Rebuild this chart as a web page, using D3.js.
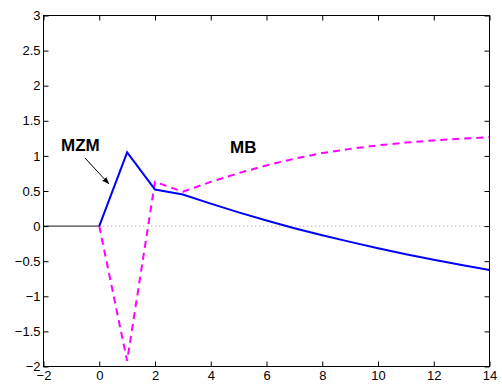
<!DOCTYPE html>
<html>
<head>
  <meta charset="utf-8">
  <style type="text/css">
    body { margin: 0; background: #fff; }
    svg { display: block; background: #fff; }
    .axis text {
      font-family: "Liberation Sans", Arial, sans-serif;
      font-size: 13px;
      fill: #000;
    }
    .axis path { display: none; }
    .axis line { stroke: #000; stroke-width: 1px; }
    .label {
      font-family: "Liberation Sans", Arial, sans-serif;
      font-size: 17px;
      font-weight: bold;
      fill: #000;
    }
  </style>
</head>
<body>
  <script src="https://d3js.org/d3.v7.min.js"></script>
  <script>
    // periods after the shock
    var periods = [0, 1, 2, 3, 4, 5, 6, 7, 8, 9, 10, 11, 12, 13, 14];
    // MZM response (blue, solid)
    var mzm = [0, 1.05, 0.52, 0.45, 0.32, 0.195, 0.08, -0.03, -0.13, -0.225, -0.315, -0.40, -0.48, -0.555, -0.625];
    // MB response (magenta, dashed)
    var mb = [0, -1.92, 0.63, 0.49, 0.63, 0.755, 0.865, 0.96, 1.04, 1.10, 1.15, 1.19, 1.22, 1.245, 1.265];
    // pre-shock segment
    var preX = [-2, 0];
    var preY = [0, 0];

    var xTicks = [-2, 0, 2, 4, 6, 8, 10, 12, 14];
    var yTicks = [-2, -1.5, -1, -0.5, 0, 0.5, 1, 1.5, 2, 2.5, 3];

    var W = 502, H = 390;
    var m = {left: 43.5, right: 489.5, top: 15.5, bottom: 366.5};

    var x = d3.scaleLinear().domain([-2, 14]).range([m.left, m.right]);
    var y = d3.scaleLinear().domain([-2, 3]).range([m.bottom, m.top]);
    var fmt = d3.format("");

    var svg = d3.select("body").append("svg")
      .attr("width", W)
      .attr("height", H);

    // zero reference line (dotted)
    svg.append("line")
      .attr("x1", x(0)).attr("x2", x(14))
      .attr("y1", y(0)).attr("y2", y(0))
      .attr("stroke", "#999")
      .attr("stroke-width", 1)
      .attr("stroke-dasharray", "1,3");

    var line = d3.line()
      .x(function(d) { return x(d[0]); })
      .y(function(d) { return y(d[1]); });

    svg.append("path")
      .datum(d3.zip(preX, preY))
      .attr("d", line)
      .attr("fill", "none")
      .attr("stroke", "#444")
      .attr("stroke-width", 1.2);

    svg.append("path")
      .datum(d3.zip(periods, mb))
      .attr("d", line)
      .attr("fill", "none")
      .attr("stroke", "#ff00ff")
      .attr("stroke-width", 2)
      .attr("stroke-dasharray", "7,5");

    svg.append("path")
      .datum(d3.zip(periods, mzm))
      .attr("d", line)
      .attr("fill", "none")
      .attr("stroke", "#0000ff")
      .attr("stroke-width", 2);

    // axes, MATLAB style: ticks pointing inward, box all round
    svg.append("g")
      .attr("class", "x axis")
      .attr("transform", "translate(0," + m.bottom + ")")
      .call(d3.axisBottom(x).tickValues(xTicks).tickFormat(fmt).tickSize(-5).tickPadding(4));

    svg.append("g")
      .attr("class", "x axis")
      .attr("transform", "translate(0," + m.top + ")")
      .call(d3.axisTop(x).tickValues(xTicks).tickSize(-5).tickFormat(""));

    svg.append("g")
      .attr("class", "y axis")
      .attr("transform", "translate(" + m.left + ",0)")
      .call(d3.axisLeft(y).tickValues(yTicks).tickFormat(fmt).tickSize(-5).tickPadding(3));

    svg.append("g")
      .attr("class", "y axis")
      .attr("transform", "translate(" + m.right + ",0)")
      .call(d3.axisRight(y).tickValues(yTicks).tickSize(-5).tickFormat(""));

    svg.append("rect")
      .attr("x", m.left).attr("y", m.top)
      .attr("width", m.right - m.left).attr("height", m.bottom - m.top)
      .attr("fill", "none")
      .attr("stroke", "#000")
      .attr("stroke-width", 1);

    // annotations
    svg.append("defs").append("marker")
      .attr("id", "arrow")
      .attr("viewBox", "0 0 10 10")
      .attr("refX", 10).attr("refY", 5)
      .attr("markerWidth", 7).attr("markerHeight", 7)
      .attr("orient", "auto")
      .append("path")
      .attr("d", "M0,1L10,5L0,9Z")
      .attr("fill", "#000");

    svg.append("text")
      .attr("class", "label")
      .attr("x", 61).attr("y", 150.5)
      .text("MZM");

    svg.append("line")
      .attr("x1", 85).attr("y1", 158)
      .attr("x2", 109).attr("y2", 184)
      .attr("stroke", "#000")
      .attr("stroke-width", 1)
      .attr("marker-end", "url(#arrow)");

    svg.append("text")
      .attr("class", "label")
      .attr("x", 230).attr("y", 152.5)
      .text("MB");
  </script>
</body>
</html>
